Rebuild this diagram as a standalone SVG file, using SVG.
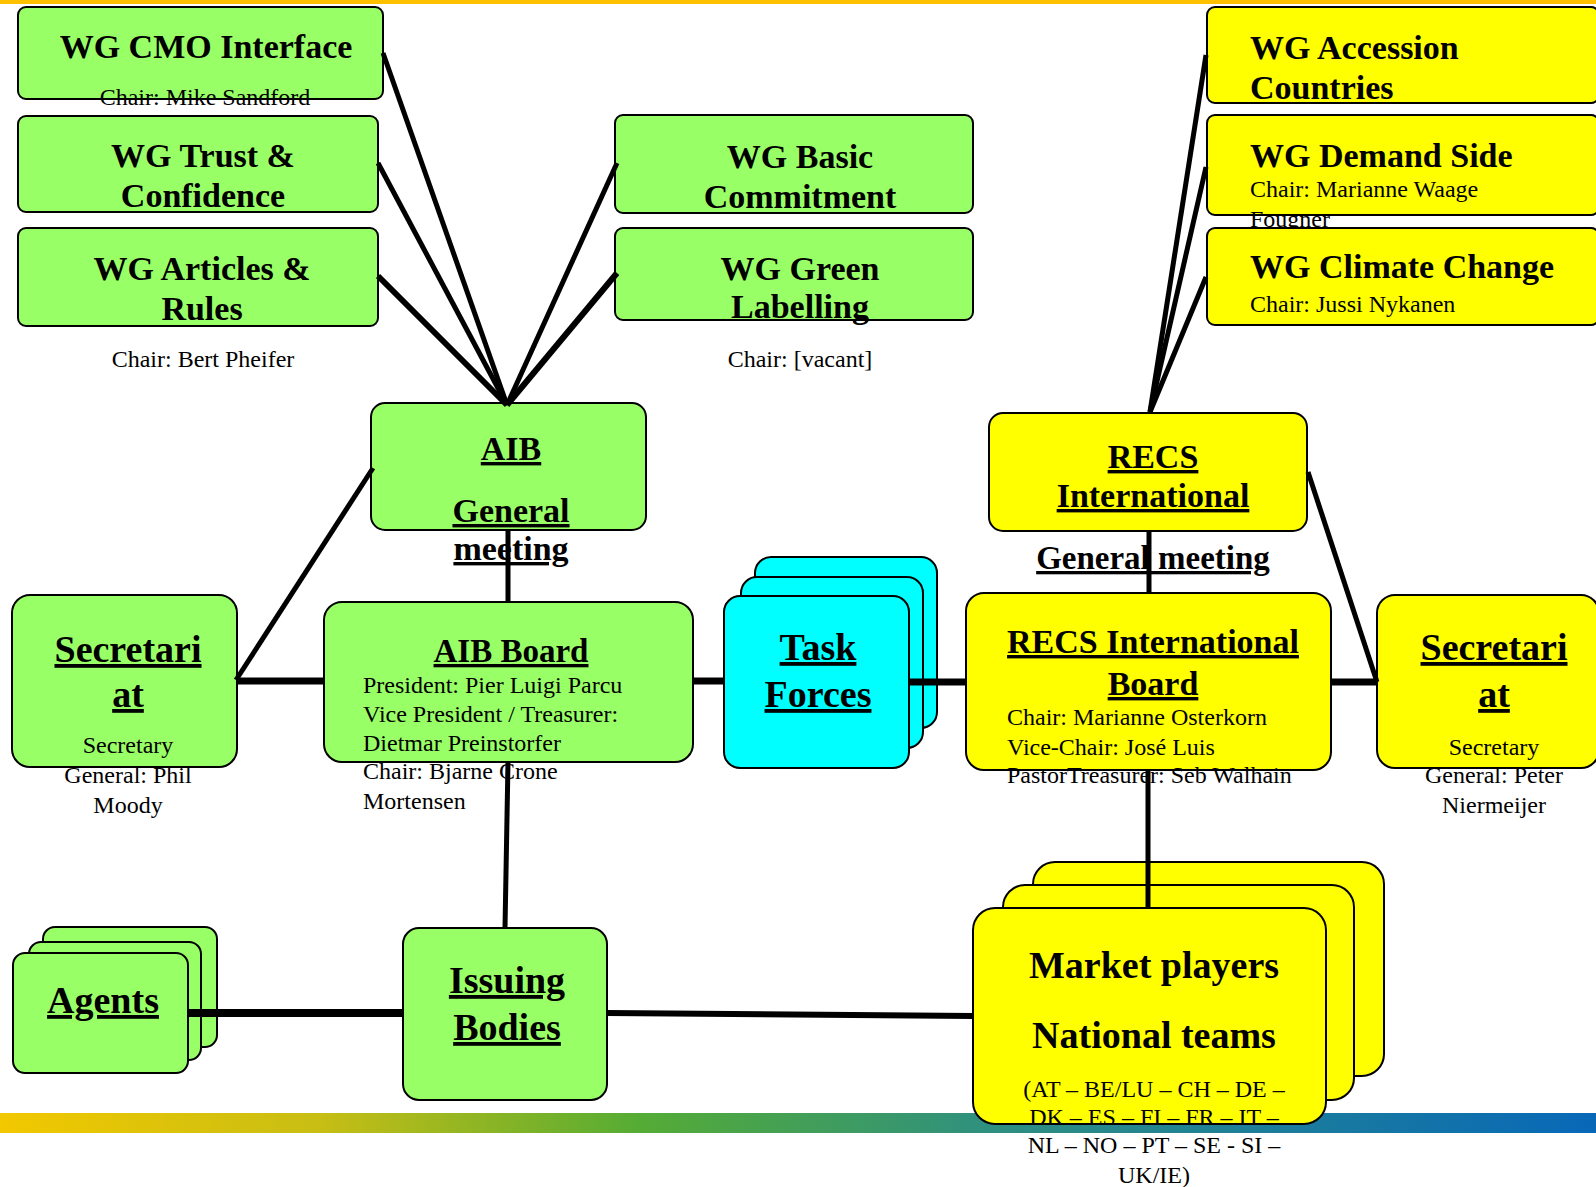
<svg xmlns="http://www.w3.org/2000/svg" width="1596" height="1187" viewBox="0 0 1596 1187">
<defs>
<linearGradient id="bar" x1="0" y1="0" x2="1" y2="0">
<stop offset="0" stop-color="#F2C800"/>
<stop offset="0.2" stop-color="#C8BE14"/>
<stop offset="0.4" stop-color="#55AC34"/>
<stop offset="0.62" stop-color="#2E9080"/>
<stop offset="1" stop-color="#0868B8"/>
</linearGradient>
</defs>
<style>
.g{fill:#99FF66;stroke:#000;stroke-width:2}
.y{fill:#FFFF00;stroke:#000;stroke-width:2}
.c{fill:#00FFFF;stroke:#000;stroke-width:2}
text{font-family:"Liberation Serif","Times New Roman",serif;fill:#000}
.t{font-weight:bold;font-size:34px}
.tc{text-anchor:middle}
.u{text-decoration:underline;text-decoration-thickness:3px}
.big{font-weight:bold;font-size:38px}
.s{font-size:24px}
.cn line{stroke:#000;stroke-linecap:butt}
</style>
<rect x="0" y="0" width="1596" height="4" fill="#FFC000"/>
<rect x="0" y="1113" width="1596" height="20" fill="url(#bar)"/>

<g id="wg-cmo">
<rect class="g" x="18" y="7" width="365" height="92" rx="8"/>
<text class="t tc" x="206" y="58">WG CMO Interface</text>
<text class="s tc" x="205" y="105">Chair: Mike Sandford</text>
</g>
<g id="wg-trust">
<rect class="g" x="18" y="116" width="360" height="96" rx="8"/>
<text class="t tc" x="203" y="167">WG Trust &amp;</text>
<text class="t tc" x="203" y="207">Confidence</text>
</g>
<g id="wg-articles">
<rect class="g" x="18" y="228" width="360" height="98" rx="8"/>
<text class="t tc" x="202" y="280">WG Articles &amp;</text>
<text class="t tc" x="202" y="320">Rules</text>
<text class="s tc" x="203" y="367">Chair: Bert Pheifer</text>
</g>
<g id="wg-basic">
<rect class="g" x="615" y="115" width="358" height="98" rx="8"/>
<text class="t tc" x="800" y="168">WG Basic</text>
<text class="t tc" x="800" y="208">Commitment</text>
</g>
<g id="wg-green">
<rect class="g" x="615" y="228" width="358" height="92" rx="8"/>
<text class="t tc" x="800" y="280">WG Green</text>
<text class="t tc" x="800" y="318">Labelling</text>
<text class="s tc" x="800" y="367">Chair: [vacant]</text>
</g>
<g id="wg-accession">
<rect class="y" x="1207" y="7" width="392" height="96" rx="8"/>
<text class="t" x="1250" y="59">WG Accession</text>
<text class="t" x="1250" y="99">Countries</text>
</g>
<g id="wg-demand">
<rect class="y" x="1207" y="115" width="392" height="100" rx="8"/>
<text class="t" x="1250" y="167">WG Demand Side</text>
<text class="s" x="1250" y="197">Chair: Marianne Waage</text>
<text class="s" x="1250" y="227">Fougner</text>
</g>
<g id="wg-climate">
<rect class="y" x="1207" y="228" width="392" height="97" rx="8"/>
<text class="t" x="1250" y="278">WG Climate Change</text>
<text class="s" x="1250" y="312">Chair: Jussi Nykanen</text>
</g>

<g id="aib">
<rect class="g" x="371" y="403" width="275" height="127" rx="14"/>
<text class="t tc u" x="511" y="460">AIB</text>
<text class="t tc u" x="511" y="522">General</text>
<text class="t tc u" x="511" y="560">meeting</text>
</g>
<g id="recs-intl">
<rect class="y" x="989" y="413" width="318" height="118" rx="14"/>
<text class="t tc u" x="1153" y="468">RECS</text>
<text class="t tc u" x="1153" y="507">International</text>
<text class="t tc u" x="1153" y="569" style="font-size:33px">General meeting</text>
</g>

<g id="secretariat-left">
<rect class="g" x="12" y="595" width="225" height="172" rx="18"/>
<text class="big tc u" x="128" y="662">Secretari</text>
<text class="big tc u" x="128" y="707">at</text>
<text class="s tc" x="128" y="753">Secretary</text>
<text class="s tc" x="128" y="783">General: Phil</text>
<text class="s tc" x="128" y="813">Moody</text>
</g>
<g id="aib-board">
<rect class="g" x="324" y="602" width="369" height="160" rx="18"/>
<text class="tc u" x="511" y="662" style="font-weight:bold;font-size:33px">AIB Board</text>
<text class="s" x="363" y="693">President: Pier Luigi Parcu</text>
<text class="s" x="363" y="722">Vice President / Treasurer:</text>
<text class="s" x="363" y="751">Dietmar Preinstorfer</text>
<text class="s" x="363" y="779">Chair: Bjarne Crone</text>
<text class="s" x="363" y="809">Mortensen</text>
</g>
<g id="task-forces">
<rect class="c" x="755" y="557" width="182" height="171" rx="16"/>
<rect class="c" x="741" y="577" width="182" height="171" rx="16"/>
<rect class="c" x="724" y="596" width="185" height="172" rx="16"/>
<text class="big tc u" x="818" y="660">Task</text>
<text class="big tc u" x="818" y="707">Forces</text>
</g>
<g id="recs-board">
<rect class="y" x="966" y="593" width="365" height="177" rx="18"/>
<text class="tc u" x="1153" y="653" style="font-weight:bold;font-size:34px">RECS International</text>
<text class="tc u" x="1153" y="695" style="font-weight:bold;font-size:34px">Board</text>
<text class="s" x="1007" y="725">Chair: Marianne Osterkorn</text>
<text class="s" x="1007" y="755">Vice-Chair: José Luis</text>
<text class="s" x="1007" y="783">PastorTreasurer: Seb Walhain</text>
</g>
<g id="secretariat-right">
<rect class="y" x="1377" y="595" width="222" height="173" rx="18"/>
<text class="big tc u" x="1494" y="660">Secretari</text>
<text class="big tc u" x="1494" y="707">at</text>
<text class="s tc" x="1494" y="755">Secretary</text>
<text class="s tc" x="1494" y="783">General: Peter</text>
<text class="s tc" x="1494" y="813">Niermeijer</text>
</g>

<g id="agents">
<rect class="g" x="43" y="927" width="174" height="120" rx="12"/>
<rect class="g" x="29" y="942" width="172" height="118" rx="12"/>
<rect class="g" x="13" y="953" width="175" height="120" rx="12"/>
<text class="big tc u" x="103" y="1013">Agents</text>
</g>
<g id="issuing-bodies">
<rect class="g" x="403" y="928" width="204" height="172" rx="16"/>
<text class="big tc u" x="507" y="993">Issuing</text>
<text class="big tc u" x="507" y="1040">Bodies</text>
</g>
<g id="market-players">
<rect class="y" x="1033" y="862" width="351" height="214" rx="22"/>
<rect class="y" x="1003" y="885" width="351" height="215" rx="22"/>
<rect class="y" x="973" y="908" width="353" height="216" rx="22"/>
<text class="big tc" x="1154" y="978">Market players</text>
<text class="big tc" x="1154" y="1048">National teams</text>
<text class="s tc" x="1154" y="1097">(AT – BE/LU – CH – DE –</text>
<text class="s tc" x="1154" y="1125">DK – ES – FI – FR – IT –</text>
<text class="s tc" x="1154" y="1153">NL – NO – PT – SE - SI –</text>
<text class="s tc" x="1154" y="1183">UK/IE)</text>
</g>

<g id="connectors" class="cn">
<line x1="383" y1="53" x2="507" y2="405" stroke-width="5"/>
<line x1="378" y1="163" x2="507" y2="405" stroke-width="5"/>
<line x1="378" y1="276" x2="507" y2="405" stroke-width="6"/>
<line x1="617" y1="163" x2="507" y2="405" stroke-width="5"/>
<line x1="617" y1="273" x2="507" y2="405" stroke-width="6"/>
<line x1="373" y1="468" x2="236" y2="680" stroke-width="5"/>
<line x1="236" y1="681" x2="324" y2="681" stroke-width="7"/>
<line x1="508" y1="530" x2="508" y2="602" stroke-width="5"/>
<line x1="508" y1="762" x2="505" y2="928" stroke-width="5"/>
<line x1="693" y1="681" x2="724" y2="681" stroke-width="7"/>
<line x1="909" y1="682" x2="966" y2="682" stroke-width="7"/>
<line x1="1331" y1="682" x2="1377" y2="682" stroke-width="7"/>
<line x1="1308" y1="472" x2="1377" y2="682" stroke-width="5"/>
<line x1="1149" y1="531" x2="1149" y2="593" stroke-width="5"/>
<line x1="1148" y1="770" x2="1148" y2="908" stroke-width="5"/>
<line x1="1206" y1="55" x2="1150" y2="412" stroke-width="5"/>
<line x1="1206" y1="167" x2="1150" y2="412" stroke-width="5"/>
<line x1="1206" y1="277" x2="1150" y2="412" stroke-width="5"/>
<line x1="188" y1="1013" x2="403" y2="1013" stroke-width="8"/>
<line x1="607" y1="1013" x2="973" y2="1016" stroke-width="6"/>
</g>
</svg>
